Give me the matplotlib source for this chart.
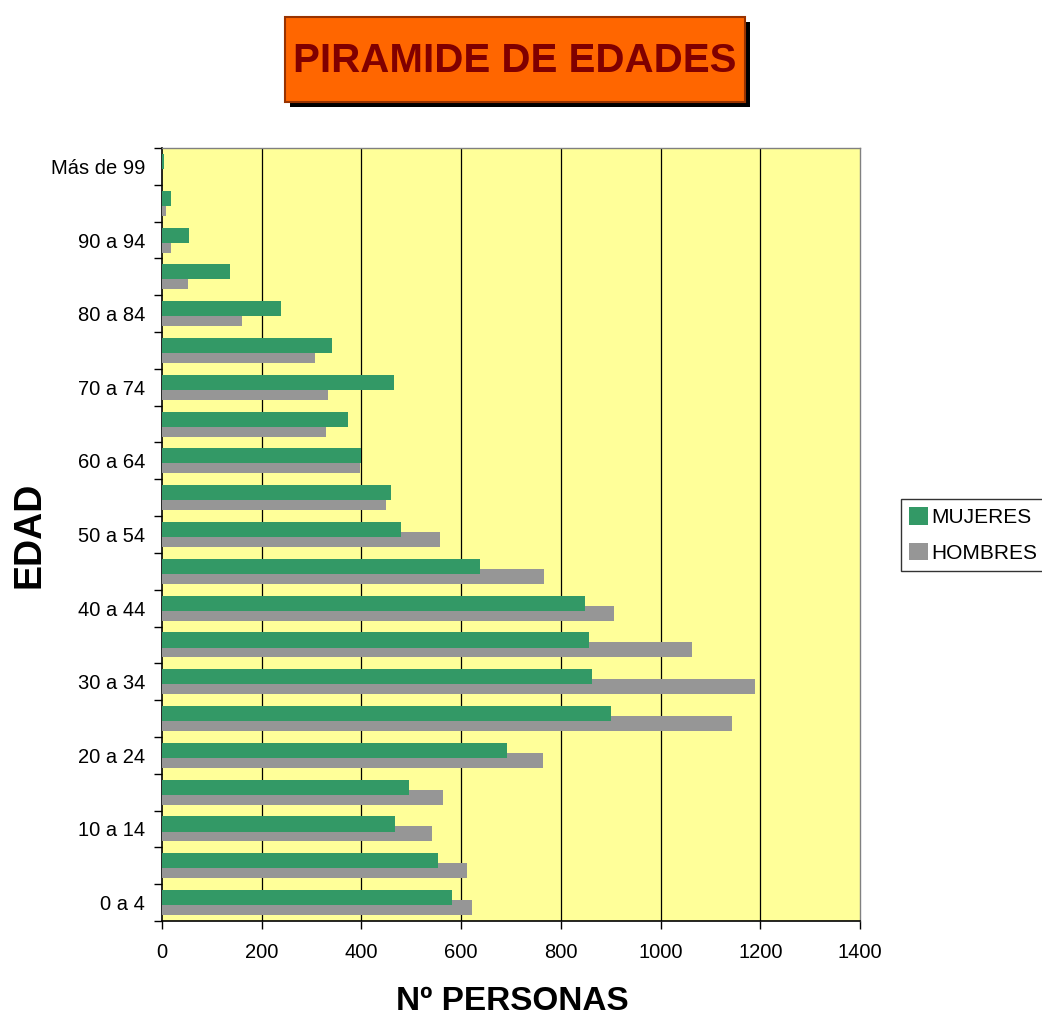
import matplotlib
matplotlib.use("Agg")
import matplotlib.pyplot as plt
from matplotlib.patches import Rectangle, Patch
import numpy as np

plt.rcParams['font.family'] = ['Liberation Sans', 'DejaVu Sans']

# --- data ---
grupos = ["0 a 4", "5 a 9", "10 a 14", "15 a 19", "20 a 24", "25 a 29",
          "30 a 34", "35 a 39", "40 a 44", "45 a 49", "50 a 54", "55 a 59",
          "60 a 64", "65 a 69", "70 a 74", "75 a 79", "80 a 84", "85 a 89",
          "90 a 94", "95 a 99", "Más de 99"]
mujeres = [581, 553, 467, 496, 692, 900, 863, 857, 849, 638, 480, 459,
           399, 374, 466, 340, 239, 137, 55, 18, 5]
hombres = [622, 612, 542, 564, 764, 1144, 1189, 1064, 907, 767, 557, 450,
           397, 328, 332, 306, 161, 52, 19, 8, 0]
xticks = [0, 200, 400, 600, 800, 1000, 1200, 1400]

W, H = 1042, 1018
fig = plt.figure(figsize=(W / 100, H / 100), dpi=100)
fig.patch.set_facecolor("white")

# axes placed in pixel terms of the reference
left, right, top, bottom = 162, 860, 148, 921
ax = fig.add_axes([left / W, 1 - bottom / H, (right - left) / W, (bottom - top) / H])
ax.set_facecolor("#FFFF99")

y = np.arange(len(grupos))
bh = 0.41
off = 0.135
ax.barh(y - off, hombres, height=bh, color="#969696", zorder=3, label="HOMBRES")
ax.barh(y + off, mujeres, height=bh, color="#339966", zorder=4, label="MUJERES")

ax.set_xlim(0, 1400)
ax.set_ylim(-0.5, len(grupos) - 0.5)

# vertical grid
for v in xticks[1:-1]:
    ax.axvline(v, color="black", lw=0.9, zorder=2)

ax.set_xticks(xticks)
ax.set_xticklabels([str(v) for v in xticks], fontsize=14.5)
ax.tick_params(axis="x", direction="out", length=6, width=1, pad=10)

# y: tick marks on category boundaries, labels on every second category
ax.set_yticks(np.arange(-0.5, len(grupos), 1.0))
ax.set_yticklabels([])
ax.tick_params(axis="y", which="major", direction="out", length=6, width=1)
ax.set_yticks(y[::2], minor=True)
ax.set_yticklabels([grupos[i] for i in y[::2]], minor=True, fontsize=14.5)
ax.tick_params(axis="y", which="minor", length=0, pad=12)

for s in ["left", "bottom"]:
    ax.spines[s].set_color("black")
    ax.spines[s].set_linewidth(1.2)
for s in ["top", "right"]:
    ax.spines[s].set_color("#808080")
    ax.spines[s].set_linewidth(1.0)

# axis titles
fig.text(30 / W, 1 - 535 / H, "EDAD", rotation=90, fontsize=27,
         fontweight="bold", ha="center", va="center")
fig.text(512 / W, 1 - 1002 / H, "Nº PERSONAS", fontsize=24,
         fontweight="bold", ha="center", va="center")

# title box with shadow
bx0, by0, bx1, by1 = 285, 17, 745, 102
sh = 5
fig.patches.append(Rectangle(((bx0 + sh) / W, 1 - (by1 + sh) / H),
                             (bx1 - bx0) / W, (by1 - by0) / H,
                             transform=fig.transFigure, facecolor="black",
                             edgecolor="none", zorder=1))
fig.patches.append(Rectangle((bx0 / W, 1 - by1 / H), (bx1 - bx0) / W, (by1 - by0) / H,
                             transform=fig.transFigure, facecolor="#FF6600",
                             edgecolor="#993300", linewidth=1.5, zorder=2))
fig.text((bx0 + bx1) / 2 / W, 1 - 61 / H, "PIRAMIDE DE EDADES", fontsize=29,
         fontweight="bold", color="#800000", ha="center", va="center", zorder=3)

# legend
handles = [Patch(facecolor="#339966", edgecolor="none", label="MUJERES"),
           Patch(facecolor="#969696", edgecolor="none", label="HOMBRES")]
leg = fig.legend(handles=handles, loc="center left",
                 bbox_to_anchor=(901 / W, 1 - 535 / H), fontsize=15,
                 frameon=True, fancybox=False, edgecolor="black",
                 handlelength=0.9, handleheight=0.9, handletextpad=0.15,
                 borderpad=0.4, labelspacing=0.75, borderaxespad=0)
leg.get_frame().set_linewidth(1.0)

fig.savefig("out.png", dpi=100, facecolor="white")
